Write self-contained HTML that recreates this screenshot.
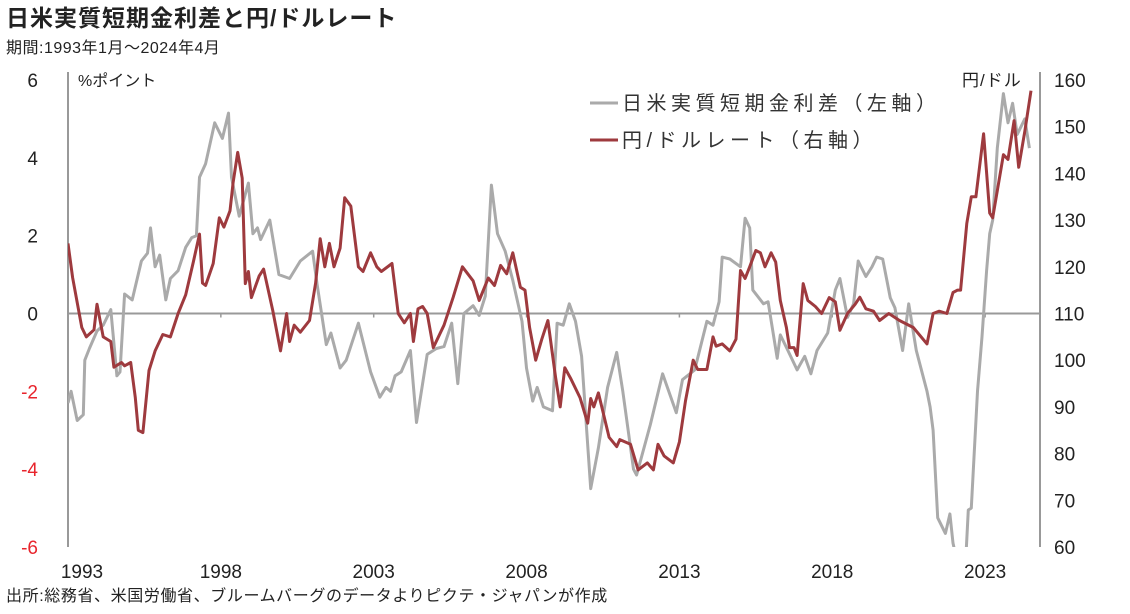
<!DOCTYPE html>
<html><head><meta charset="utf-8">
<style>
body{margin:0;background:#fff;width:1130px;height:609px;overflow:hidden;font-family:"Liberation Sans","Noto Sans CJK JP",sans-serif;}
svg text{font-family:"Liberation Sans","Noto Sans CJK JP",sans-serif;}
</style></head>
<body>
<svg id="chart" width="1130" height="609" viewBox="0 0 1130 609" xmlns="http://www.w3.org/2000/svg">
<text x="6" y="26" font-size="23" font-weight="bold" fill="#222" letter-spacing="1">日米実質短期金利差と円/ドルレート</text>
<text x="6" y="53" font-size="16" fill="#222" letter-spacing="0.5">期間:1993年1月～2024年4月</text>
<text x="78" y="86" font-size="16" fill="#222">%ポイント</text>
<text x="962" y="86" font-size="17" fill="#222" letter-spacing="1">円/ドル</text>
<text x="6" y="601" font-size="16" fill="#222" letter-spacing="0.6">出所:総務省、米国労働省、ブルームバーグのデータよりピクテ・ジャパンが作成</text>
<g id="axes"></g>
<g id="series"></g>
<g>
<line x1="590" y1="103" x2="618" y2="103" stroke="#aaaaaa" stroke-width="3"/>
<text x="622" y="110" font-size="20" fill="#333" letter-spacing="4.5">日米実質短期金利差（左軸）</text>
<line x1="590" y1="140" x2="618" y2="140" stroke="#9e3a3e" stroke-width="3"/>
<text x="622" y="147" font-size="20" fill="#333" letter-spacing="4.5">円/ドルレート（右軸）</text>
</g>
</svg>
<script>
const spreadDates=[1993.0,1993.1,1993.3,1993.5,1993.55,1993.7,1993.95,1994.15,1994.4,1994.6,1994.7,1994.85,1995.1,1995.4,1995.6,1995.7,1995.85,1996.0,1996.2,1996.35,1996.6,1996.85,1997.05,1997.2,1997.3,1997.5,1997.8,1998.05,1998.25,1998.35,1998.6,1998.9,1999.05,1999.2,1999.3,1999.6,1999.9,2000.25,2000.6,2001.0,2001.15,2001.45,2001.6,2001.9,2002.1,2002.5,2002.9,2003.2,2003.4,2003.55,2003.7,2003.9,2004.2,2004.4,2004.75,2005.05,2005.3,2005.55,2005.75,2005.95,2006.25,2006.45,2006.65,2006.85,2007.05,2007.3,2007.55,2007.85,2008.0,2008.2,2008.35,2008.55,2008.85,2009.0,2009.2,2009.4,2009.6,2009.8,2010.1,2010.35,2010.65,2010.95,2011.15,2011.5,2011.6,2012.05,2012.45,2012.9,2013.1,2013.5,2013.9,2014.1,2014.3,2014.4,2014.65,2015.0,2015.15,2015.3,2015.4,2015.75,2015.9,2016.2,2016.3,2016.55,2016.85,2017.1,2017.3,2017.5,2017.85,2018.1,2018.25,2018.5,2018.7,2018.85,2019.1,2019.3,2019.45,2019.65,2019.9,2020.05,2020.3,2020.5,2020.75,2021.1,2021.2,2021.3,2021.45,2021.7,2021.85,2021.95,2022.15,2022.35,2022.45,2022.55,2022.75,2022.9,2023.05,2023.15,2023.25,2023.4,2023.6,2023.75,2023.9,2024.05,2024.3,2024.45];
const spreadValues=[-2.3,-2.0,-2.75,-2.6,-1.2,-0.9,-0.45,-0.3,0.1,-1.6,-1.5,0.5,0.35,1.35,1.55,2.2,1.2,1.5,0.35,0.9,1.1,1.7,1.95,2.0,3.5,3.85,4.9,4.5,5.15,3.5,2.5,3.35,2.05,2.2,1.9,2.4,1.0,0.9,1.35,1.6,0.75,-0.8,-0.5,-1.4,-1.2,-0.25,-1.5,-2.15,-1.9,-2.0,-1.6,-1.5,-0.95,-2.8,-1.05,-0.9,-0.85,-0.25,-1.8,0,0.2,-0.05,0.45,3.3,2.05,1.6,0.85,-0.2,-1.4,-2.25,-1.9,-2.4,-2.5,-0.25,-0.3,0.25,-0.2,-1.1,-4.5,-3.45,-1.9,-1.0,-2.0,-4.0,-4.15,-2.85,-1.55,-2.55,-1.7,-1.45,-0.2,-0.3,0.3,1.45,1.4,1.2,2.45,2.2,0.6,0.25,0.3,-1.15,-0.55,-0.95,-1.45,-1.1,-1.55,-0.95,-0.5,0.6,0.9,-0.1,0.25,1.35,0.95,1.2,1.45,1.4,0.4,0.15,-0.95,0.25,-0.95,-2.0,-2.4,-3.0,-5.25,-5.65,-5.15,-5.9,-6.6,-6.6,-5.05,-5.0,-2.0,-0.6,1.1,2.05,2.4,4.25,5.65,4.9,5.4,4.6,5.0,4.25];
const yenDates=[1993.0,1993.15,1993.45,1993.6,1993.85,1993.95,1994.15,1994.4,1994.5,1994.75,1994.85,1995.05,1995.2,1995.3,1995.45,1995.65,1995.85,1996.1,1996.35,1996.6,1996.85,1997.1,1997.3,1997.4,1997.5,1997.75,1997.95,1998.1,1998.3,1998.4,1998.55,1998.7,1998.8,1998.9,1999.0,1999.25,1999.4,1999.7,1999.95,2000.15,2000.25,2000.4,2000.6,2000.9,2001.1,2001.25,2001.4,2001.55,2001.7,2001.9,2002.05,2002.25,2002.5,2002.65,2002.9,2003.1,2003.25,2003.6,2003.8,2004.0,2004.2,2004.3,2004.45,2004.6,2004.75,2004.95,2005.3,2005.6,2005.9,2006.25,2006.45,2006.75,2006.95,2007.15,2007.35,2007.55,2007.8,2007.95,2008.1,2008.3,2008.5,2008.7,2008.95,2009.1,2009.25,2009.45,2009.75,2010.0,2010.1,2010.2,2010.35,2010.7,2010.95,2011.05,2011.4,2011.65,2011.95,2012.15,2012.3,2012.5,2012.8,2013.0,2013.2,2013.45,2013.6,2013.9,2014.1,2014.2,2014.4,2014.65,2014.85,2015.0,2015.15,2015.3,2015.5,2015.65,2015.8,2016.0,2016.15,2016.3,2016.5,2016.6,2016.75,2016.85,2017.05,2017.2,2017.45,2017.65,2017.9,2018.1,2018.25,2018.5,2018.75,2018.9,2019.1,2019.35,2019.55,2019.85,2020.2,2020.65,2021.1,2021.3,2021.5,2021.75,2021.95,2022.1,2022.2,2022.4,2022.55,2022.7,2022.95,2023.15,2023.25,2023.4,2023.6,2023.75,2023.95,2024.1,2024.3,2024.5];
const yenValues=[125,117.7,107,105,106.5,112,105,104,98.5,99.5,98.8,99.5,92,85,84.5,97.8,102,105.5,105,110,114,121,127,116.5,116,120.7,130.5,128.5,132,138,144.5,139,116.4,119,113.4,118,119.5,110.6,102,110,104,107.5,106,108.5,116.5,126,120,125,120,124,134.8,133,120,119,123,120,119,120.7,110,108,110,104,111,111.5,110,102.7,107.5,113.5,120,117,112.8,117.6,116,120.3,118.5,123,115.6,115,107,100,104.5,108.5,96.3,90,98.4,96,92,86.5,91.8,90,93,83.5,81.5,83,82,76.5,78,76.5,82,79.5,78,82.5,91.3,100,98,98,105,103,103.5,102,104.5,119.2,117.5,120,123.5,123,120,123,121,112.8,107,102.7,102.7,101,116.4,112.8,111.5,110,113.4,112.5,106.4,110,112,113.5,111,110.5,108.5,110,108.5,107,103.5,110,110.5,110,114.5,115,115,129.3,135,135,148.5,131.5,130.5,136.3,144,143,151.3,141.3,149,157.7];
const leftTicks=[6,4,2,0,-2,-4,-6];
const rightTicks=[160,150,140,130,120,110,100,90,80,70,60];
const yearLabels=[1993,1998,2003,2008,2013,2018,2023];

const NS="http://www.w3.org/2000/svg";
const X0=68,X1=1040,Y0=80,Y1=547;
const xS=y=>X0+(y-1993)*30.57;
const yL=v=>Y0+(6-v)*(Y1-Y0)/12;
const yR=v=>Y0+(160-v)*(Y1-Y0)/100;
function mk(tag,attrs,parent){const e=document.createElementNS(NS,tag);for(const k in attrs)e.setAttribute(k,attrs[k]);parent.appendChild(e);return e;}
const svg=document.getElementById('chart');
const axes=document.getElementById('axes');
const series=document.getElementById('series');
const defs=mk('defs',{},svg);
const cp=mk('clipPath',{id:'plotclip'},defs);
mk('rect',{x:X0,y:Y0-6,width:X1-X0,height:Y1-Y0+6},cp);

let e;
e=mk('line',{x1:X0,y1:Y0-8,x2:X0,y2:Y1,stroke:'#999','stroke-width':2},axes);


e=mk('line',{x1:X1,y1:Y0-8,x2:X1,y2:Y1,stroke:'#999','stroke-width':2},axes);


e=mk('line',{x1:X0,y1:yL(0),x2:X1,y2:yL(0),stroke:'#999','stroke-width':2},axes);


leftTicks.forEach(v=>{
  const t=mk('text',{x:38,y:yL(v)+7,'font-size':19,'text-anchor':'end',fill:v<0?'#e8242c':'#222'},axes);
  t.textContent=v;
  
  
});
rightTicks.forEach(v=>{
  const t=mk('text',{x:1054,y:yR(v)+7,'font-size':19,fill:'#222'},axes);
  t.textContent=v;
  
  
});
yearLabels.forEach(y=>{
  const x=xS(y);
  const tk=mk('line',{x1:x,y1:yL(0),x2:x,y2:yL(0)+4,stroke:'#999','stroke-width':1.5},axes);
  
  
  const t=mk('text',{x:x+(y===1993?14:0),y:578,'font-size':19,'text-anchor':'middle',fill:'#222'},axes);
  t.textContent=y;
  
  
});
function path(dates,vals,ys){return dates.map((d,i)=>(i?'L':'M')+xS(d).toFixed(1)+','+ys(vals[i]).toFixed(1)).join('');}
const ps=mk('path',{d:path(spreadDates,spreadValues,yL),fill:'none',stroke:'#aaaaaa','stroke-width':3,'stroke-linejoin':'round','clip-path':'url(#plotclip)'},series);


const py=mk('path',{d:path(yenDates,yenValues,yR),fill:'none',stroke:'#9e3a3e','stroke-width':3,'stroke-linejoin':'round','clip-path':'url(#plotclip)'},series);


</script>
</body></html>
